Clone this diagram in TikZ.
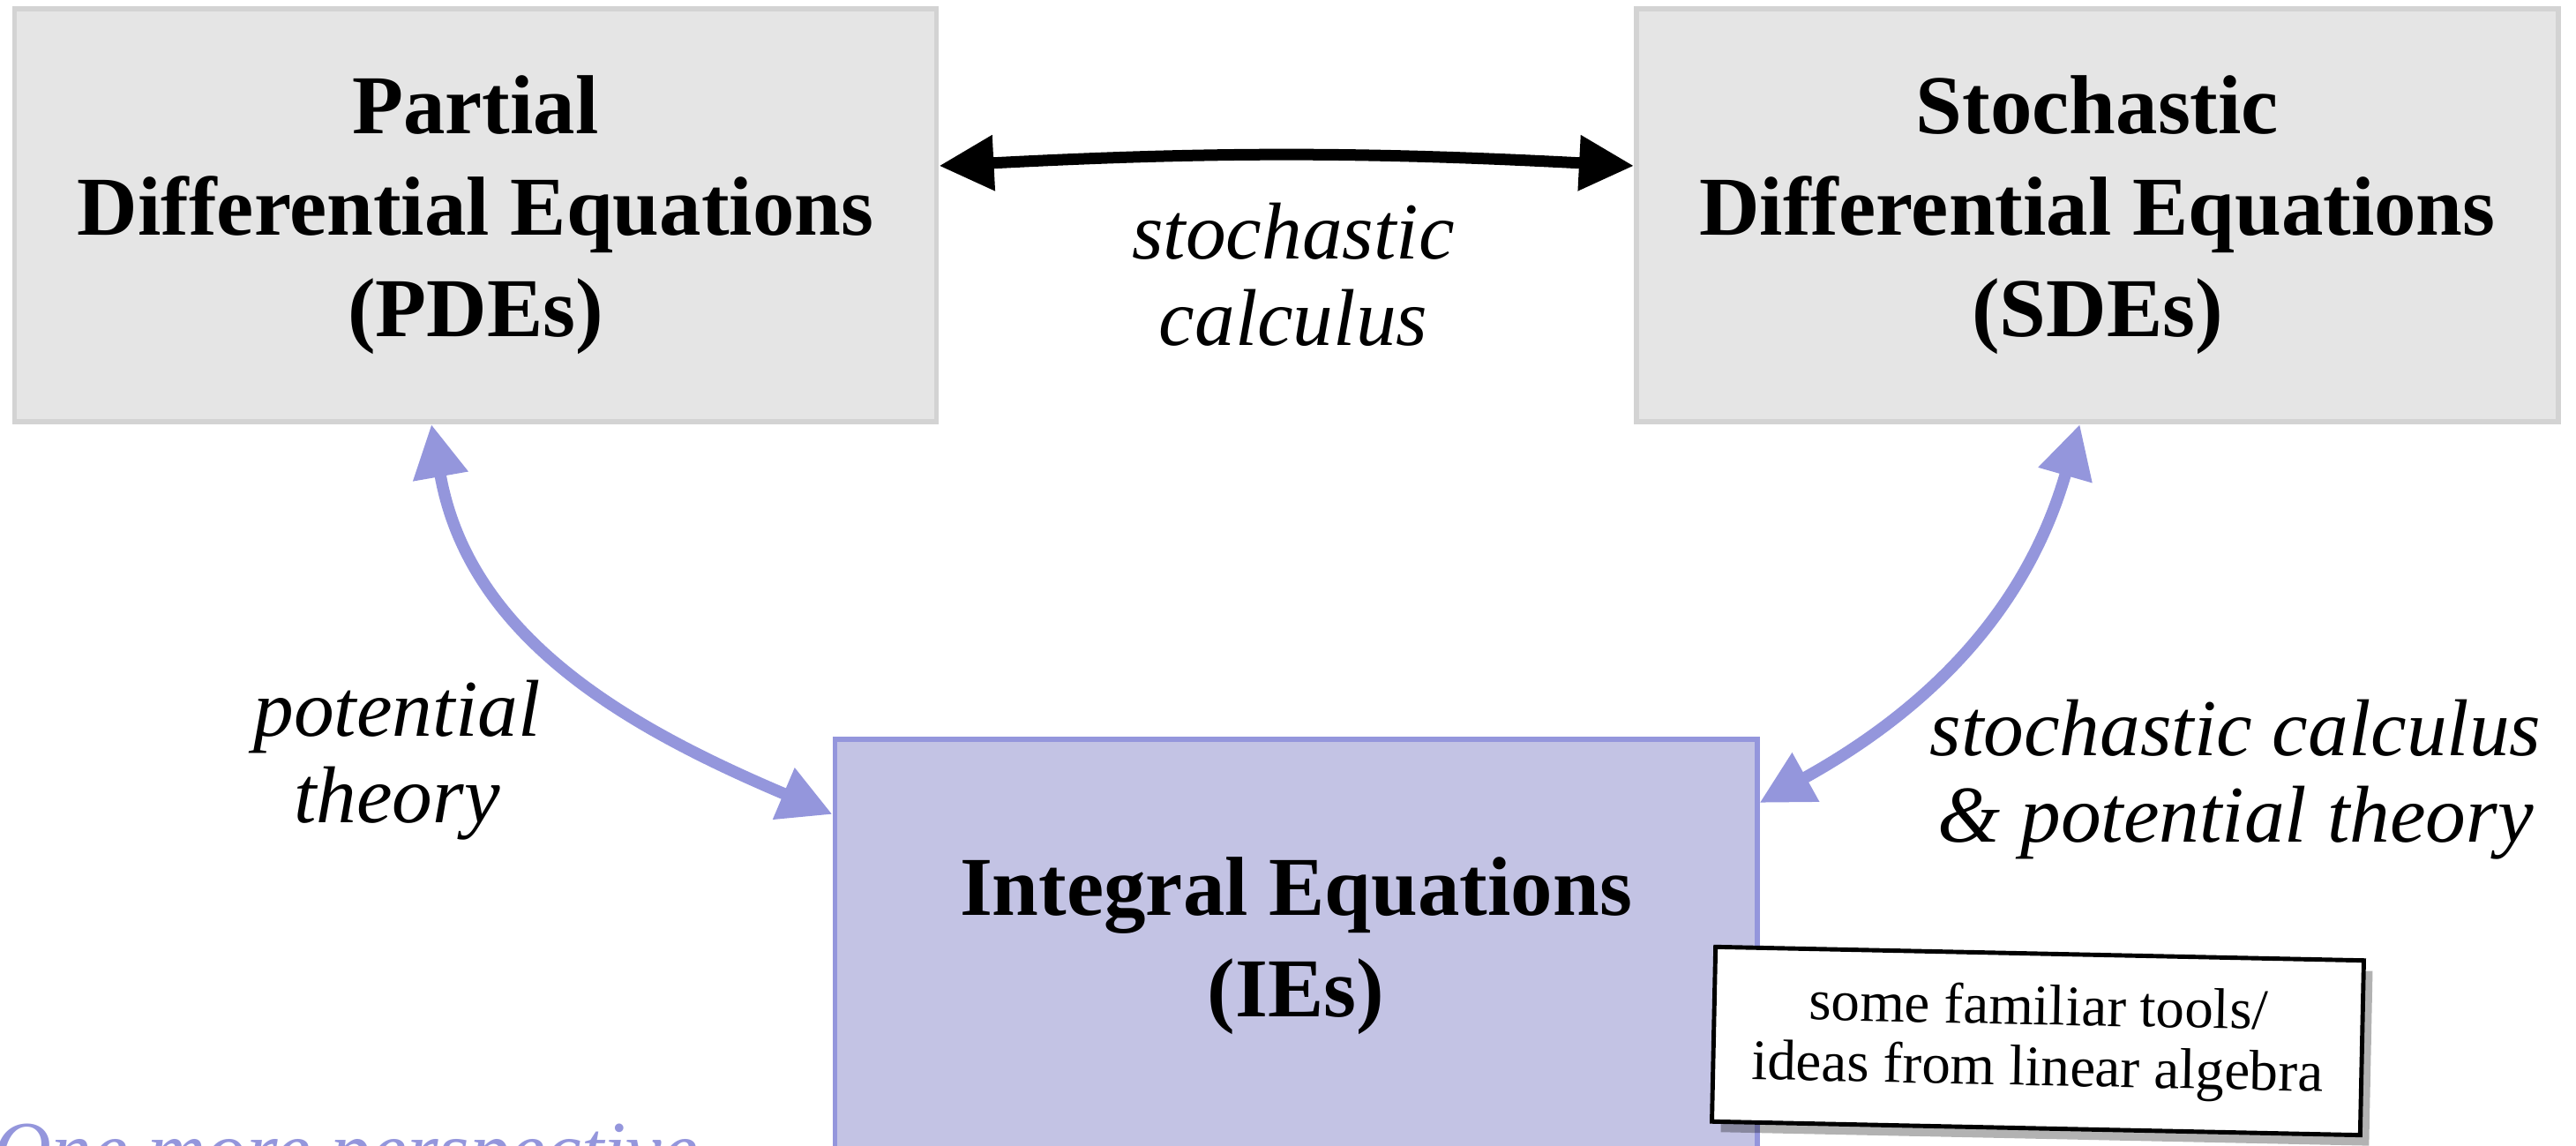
\documentclass[tikz,border=0pt]{standalone}
\usepackage{fontspec}
\setmainfont{Liberation Serif}
\usepackage{tikz}
\usetikzlibrary{positioning,arrows.meta,shadows}

\definecolor{boxgray}{RGB}{211,211,211}
\definecolor{boxfill}{RGB}{229,229,229}
\definecolor{iepurple}{RGB}{148,150,220}
\definecolor{iefill}{RGB}{195,195,228}

\begin{document}
\begin{tikzpicture}[
  bigbox/.style={rectangle, line width=1.7pt, minimum width=10.45cm, minimum height=4.68cm,
    align=center, font=\bfseries\fontsize{27}{32.7}\selectfont},
  graybox/.style={bigbox, draw=boxgray, fill=boxfill},
  iebox/.style={bigbox, draw=iepurple, fill=iefill},
  lbl/.style={align=center, font=\itshape\fontsize{26}{27.8}\selectfont},
  notebox/.style={draw=black, line width=1.4pt, fill=white, align=center,
    minimum width=7.35cm, minimum height=1.98cm, font=\fontsize{18.5}{19.6}\selectfont,
    drop shadow={shadow xshift=1mm, shadow yshift=-1.2mm, fill=black, opacity=0.3}},
  blackarrow/.style={{Triangle[length=6.2mm,width=6mm]}-{Triangle[length=6.2mm,width=6mm]},
    line width=3.7pt, black},
  purplearrow/.style={{Triangle[length=6mm,width=6mm]}-{Triangle[length=6mm,width=6mm]},
    line width=3.8pt, iepurple}]
  \useasboundingbox (0,0) rectangle (29.2,12.99);

  % the three kinds of equations
  \node[graybox] (pde) at (5.39,10.55) {Partial\\Differential Equations\\(PDEs)};
  \node[graybox] (sde) at (23.775,10.55) {Stochastic\\Differential Equations\\(SDEs)};
  \node[iebox] (ie) at (14.69,2.27) {Integral Equations\\(IEs)};

  % links between them
  \draw[blackarrow] ([yshift=5.6mm]pde.east) to[bend left=3] ([yshift=5.6mm]sde.west);
  \draw[purplearrow] ([xshift=-5mm]pde.south) to[out=-80, in=157] ([yshift=-8.8mm]ie.north west);
  \draw[purplearrow] ([xshift=-2mm]sde.south) to[out=-106, in=29] ([yshift=-7.5mm]ie.north east);

  % what each link stands for
  \node[lbl] (stoch) at (14.66,9.88) {stochastic\\calculus};
  \node[lbl] (pot) at (4.5,4.37) {potential\\theory};
  \node[lbl] (stochpot) at (25.34,4.15) {stochastic calculus\\\& potential theory};

  % side note
  \node[notebox, rotate=-1.2] (note) at (23.1,1.19) {some familiar tools/\\ideas from linear algebra};

  % start of the next slide, cut off
  \node[anchor=base west, inner sep=0, text=iepurple, font=\itshape\fontsize{26}{30}\selectfont]
    (next) at (-0.08,-0.36) {One more perspective};
\end{tikzpicture}
\end{document}
